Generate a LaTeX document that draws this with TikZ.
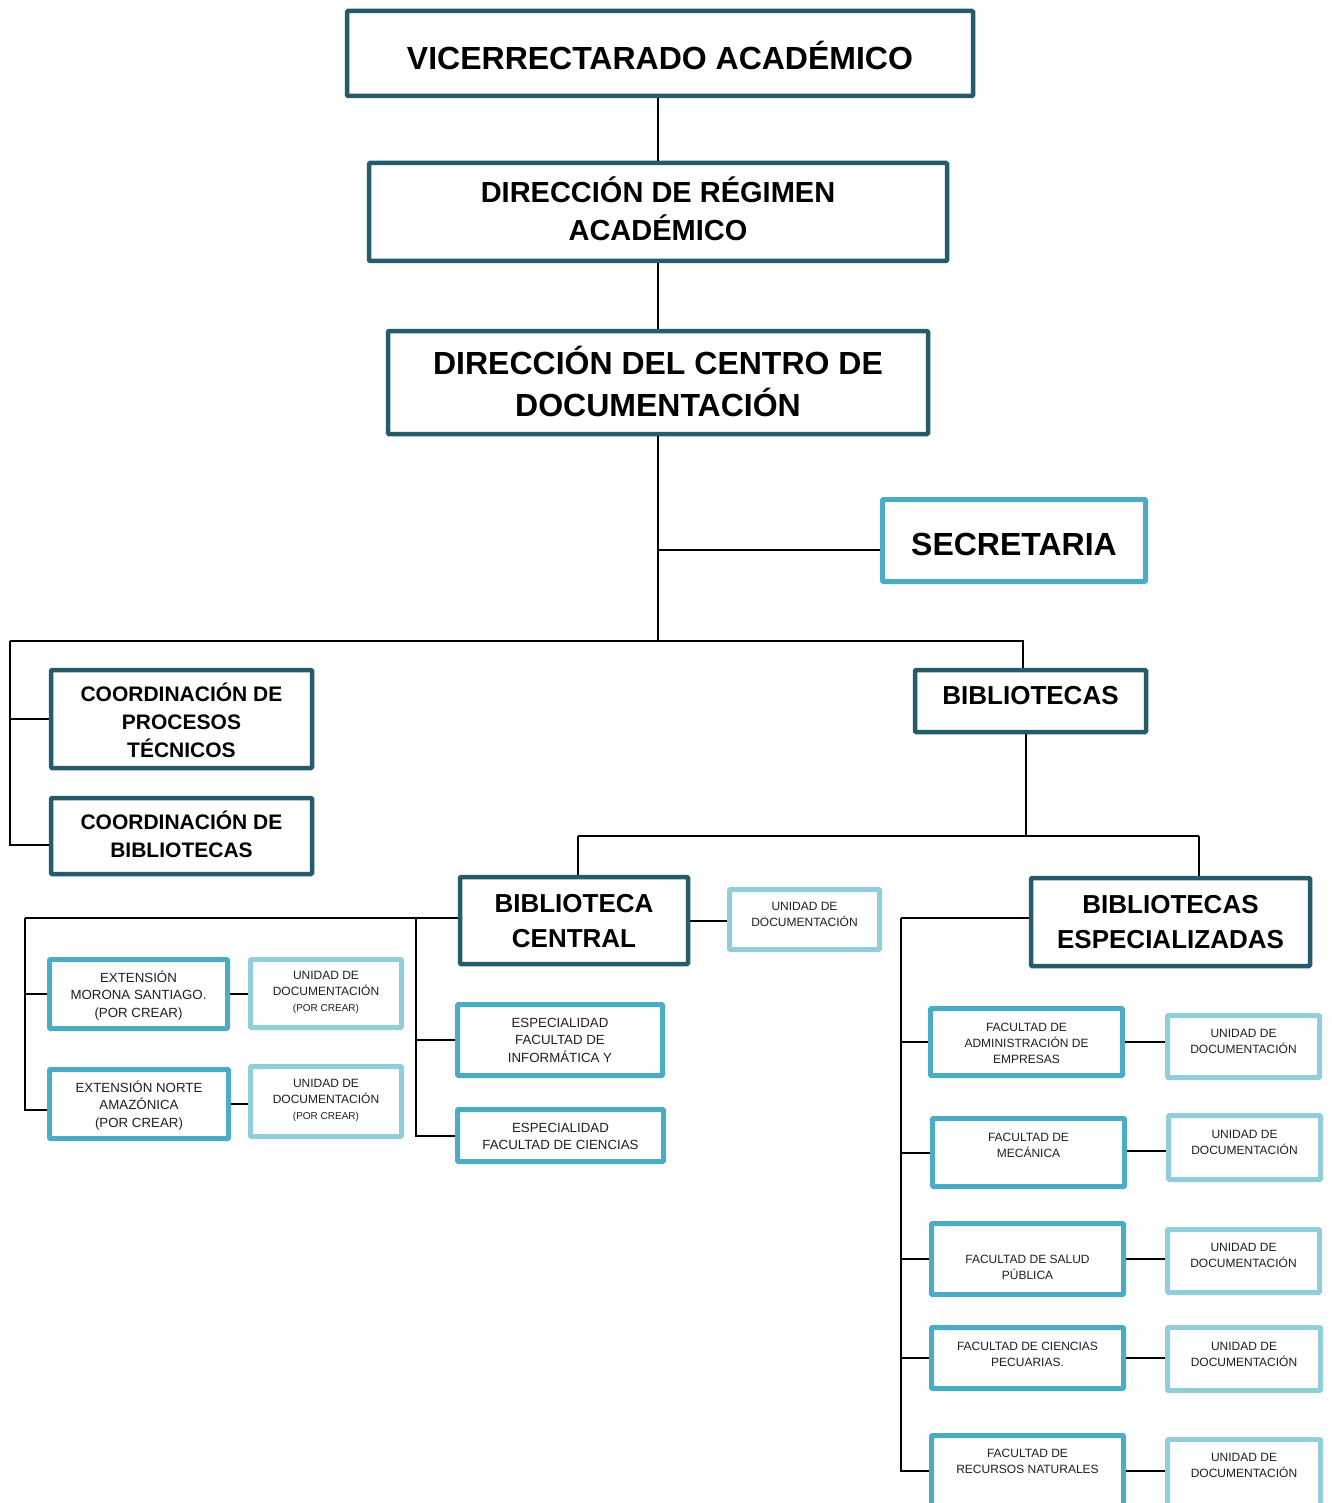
\documentclass[tikz,border=0pt]{standalone}
\usepackage{fontspec}
\setmainfont{Liberation Sans}
\usetikzlibrary{fit}
\definecolor{dkc}{HTML}{255B6A}
\definecolor{mdc}{HTML}{4BACC6}
\definecolor{ltc}{HTML}{92CDDC}
\tikzset{
  box/.style={inner sep=0pt, fill=white, rounded corners=1pt},
  dk/.style={box, draw=dkc, line width=4.5pt},
  md/.style={box, draw=mdc, line width=5pt},
  lt/.style={box, draw=ltc, line width=5pt},
  lbl/.style={align=center, inner sep=0pt, text=black},
  fA/.style={font=\fontsize{32}{42}\selectfont\bfseries},
  fB/.style={font=\fontsize{29}{38}\selectfont\bfseries},
  fC/.style={font=\fontsize{26}{35}\selectfont\bfseries},
  fD/.style={font=\fontsize{21}{28}\selectfont\bfseries},
  fE/.style={font=\fontsize{13.3}{17.5}\selectfont, text=black!88},
  fF/.style={font=\fontsize{12}{16}\selectfont, text=black!88},
  conn/.style={line width=2pt, draw=black},
}
\newcommand\orgbox[8]{%
  \node[#1, fit={(#3,#4) (#5,#6)}, label={[lbl, #7]center:{#8}}] (#2) {};}
\newcommand\pc{{\fontsize{10}{16}\selectfont (POR CREAR)}}
\begin{document}
\begin{tikzpicture}[x=1pt, y=-1pt]
\useasboundingbox (0,0) rectangle (1331,1503);
\clip (0,0) rectangle (1331,1503);
\fill[white] (0,0) rectangle (1331,1503);

\coordinate (bus) at (658,641);
\coordinate (bl) at (10,641);
\coordinate (bb) at (1026,836);
\coordinate (bcn) at (578,836);
\coordinate (ben) at (1199,836);
\coordinate (lc) at (25,918);
\coordinate (mc) at (416,918);
\coordinate (rc) at (901,918);

% ---- boxes ----
\orgbox{dk}{vic}{347}{11}{973}{96}{fA, yshift=-1.5pt}{VICERRECTARADO ACADÉMICO}
\orgbox{dk}{dra}{369}{163}{947}{261}{fB, yshift=3pt}{DIRECCIÓN DE RÉGIMEN\\ACADÉMICO}
\orgbox{dk}{dcd}{388}{331}{928}{434}{fA, yshift=1.5pt}{DIRECCIÓN DEL CENTRO DE\\DOCUMENTACIÓN}
\orgbox{md}{sec}{882.5}{499.5}{1145.5}{581.5}{fA, yshift=-3.5pt}{SECRETARIA}
\orgbox{dk}{cpt}{51}{670}{312}{768}{fD, yshift=-1pt}{COORDINACIÓN DE\\PROCESOS\\TÉCNICOS}
\orgbox{dk}{cbi}{51}{798}{312}{874}{fD, yshift=2pt}{COORDINACIÓN DE\\BIBLIOTECAS}
\orgbox{dk}{bib}{915}{670}{1146}{732}{fC, yshift=5pt}{BIBLIOTECAS}
\orgbox{dk}{bce}{460}{877}{688}{964}{fC, yshift=-1pt}{BIBLIOTECA\\CENTRAL}
\orgbox{lt}{udc}{729.5}{889.5}{879.5}{949.5}{fF, yshift=5.5pt}{UNIDAD DE\\DOCUMENTACIÓN}
\orgbox{md}{ems}{49.5}{959.5}{227.5}{1028.5}{fE, yshift=-1.5pt}{EXTENSIÓN\\MORONA SANTIAGO.\\(POR CREAR)}
\orgbox{lt}{up1}{250.5}{959.5}{401.5}{1027.5}{fF, yshift=1.5pt}{UNIDAD DE\\DOCUMENTACIÓN\\\pc}
\orgbox{md}{ena}{49.5}{1069.5}{228.5}{1138.5}{fE, yshift=-1.5pt}{EXTENSIÓN NORTE\\AMAZÓNICA\\(POR CREAR)}
\orgbox{lt}{up2}{250.5}{1066.5}{401.5}{1136.5}{fF, yshift=1.5pt}{UNIDAD DE\\DOCUMENTACIÓN\\\pc}
\orgbox{md}{inf}{457.5}{1004.5}{662.5}{1075.5}{fE}{ESPECIALIDAD\\FACULTAD DE\\INFORMÁTICA Y}
\orgbox{md}{cie}{457.5}{1109.5}{663.5}{1161.5}{fE, yshift=-1pt}{ESPECIALIDAD\\FACULTAD DE CIENCIAS}
\orgbox{dk}{besp}{1031}{878}{1310}{966}{fC}{BIBLIOTECAS\\ESPECIALIZADAS}
\orgbox{md}{adm}{930.5}{1008.5}{1122.5}{1075.5}{fF, yshift=-1pt}{FACULTAD DE\\ADMINISTRACIÓN DE\\EMPRESAS}
\orgbox{lt}{u1}{1167.5}{1015.5}{1319.5}{1077.5}{fF, yshift=5.5pt}{UNIDAD DE\\DOCUMENTACIÓN}
\orgbox{md}{mec}{932.5}{1118.5}{1124.5}{1186.5}{fF, yshift=7.5pt}{FACULTAD DE\\MECÁNICA}
\orgbox{lt}{u2}{1168.5}{1115.5}{1320.5}{1179.5}{fF, yshift=5.5pt}{UNIDAD DE\\DOCUMENTACIÓN}
\orgbox{md}{sal}{931.5}{1223.5}{1123.5}{1294.5}{fF, yshift=-8pt}{FACULTAD DE SALUD\\PÚBLICA}
\orgbox{lt}{u3}{1167.5}{1229.5}{1319.5}{1292.5}{fF, yshift=6pt}{UNIDAD DE\\DOCUMENTACIÓN}
\orgbox{md}{pec}{931.5}{1327.5}{1123.5}{1388.5}{fF, yshift=4pt}{FACULTAD DE CIENCIAS\\PECUARIAS.}
\orgbox{lt}{u4}{1167.5}{1327.5}{1320.5}{1390.5}{fF, yshift=5pt}{UNIDAD DE\\DOCUMENTACIÓN}
\orgbox{md}{rec}{931.5}{1435.5}{1123.5}{1512}{fF, yshift=12pt}{FACULTAD DE\\RECURSOS NATURALES}
\orgbox{lt}{u5}{1167.5}{1439.5}{1320.5}{1510}{fF, yshift=9.5pt}{UNIDAD DE\\DOCUMENTACIÓN}

% ---- connectors ----
\begin{scope}[conn]
\draw (dra.north) -- (dra.north |- vic.south);
\draw (dra.south) -- (dra.south |- dcd.north);
\draw (dcd.south) -- (bus);
\draw ([yshift=-9.5pt]sec.west) -- ([yshift=-9.5pt]sec.west -| bus);
\draw (bl) -- (bus) -| ([xshift=-7.5pt]bib.north);
\draw (bl) |- ([yshift=-9pt]cbi.west);
\draw (cpt.west) -- (cpt.west -| bl);
\draw (bb) -- (bb |- bib.south);
\draw (bcn) -- (ben);
\draw (bcn) -- (bcn |- bce.north);
\draw (ben) -- (ben |- besp.north);
\draw (bce.east) -- (bce.east -| udc.west);
\draw (lc) -- (lc -| bce.west);
\draw (lc) |- ([yshift=-6pt]ena.west);
\draw (ems.west) -- (ems.west -| lc);
\draw (ems.east) -- (ems.east -| up1.west);
\draw (ena.east) -- (ena.east -| up2.west);
\draw (mc) |- (cie.west);
\draw (inf.west) -- (inf.west -| mc);
\draw (rc) -- (rc -| besp.west);
\draw (rc) |- ([yshift=2.5pt]rec.west);
\draw (adm.west) -- (adm.west -| rc);
\draw (mec.west) -- (mec.west -| rc);
\draw (sal.west) -- (sal.west -| rc);
\draw (pec.west) -- (pec.west -| rc);
\draw (adm.east) -- (adm.east -| u1.west);
\draw ([yshift=1.5pt]mec.east) -- ([yshift=1.5pt]mec.east -| u2.west);
\draw (sal.east) -- (sal.east -| u3.west);
\draw (pec.east) -- (pec.east -| u4.west);
\draw ([yshift=2.5pt]rec.east) -- ([yshift=2.5pt]rec.east -| u5.west);
\end{scope}
\end{tikzpicture}
\end{document}
